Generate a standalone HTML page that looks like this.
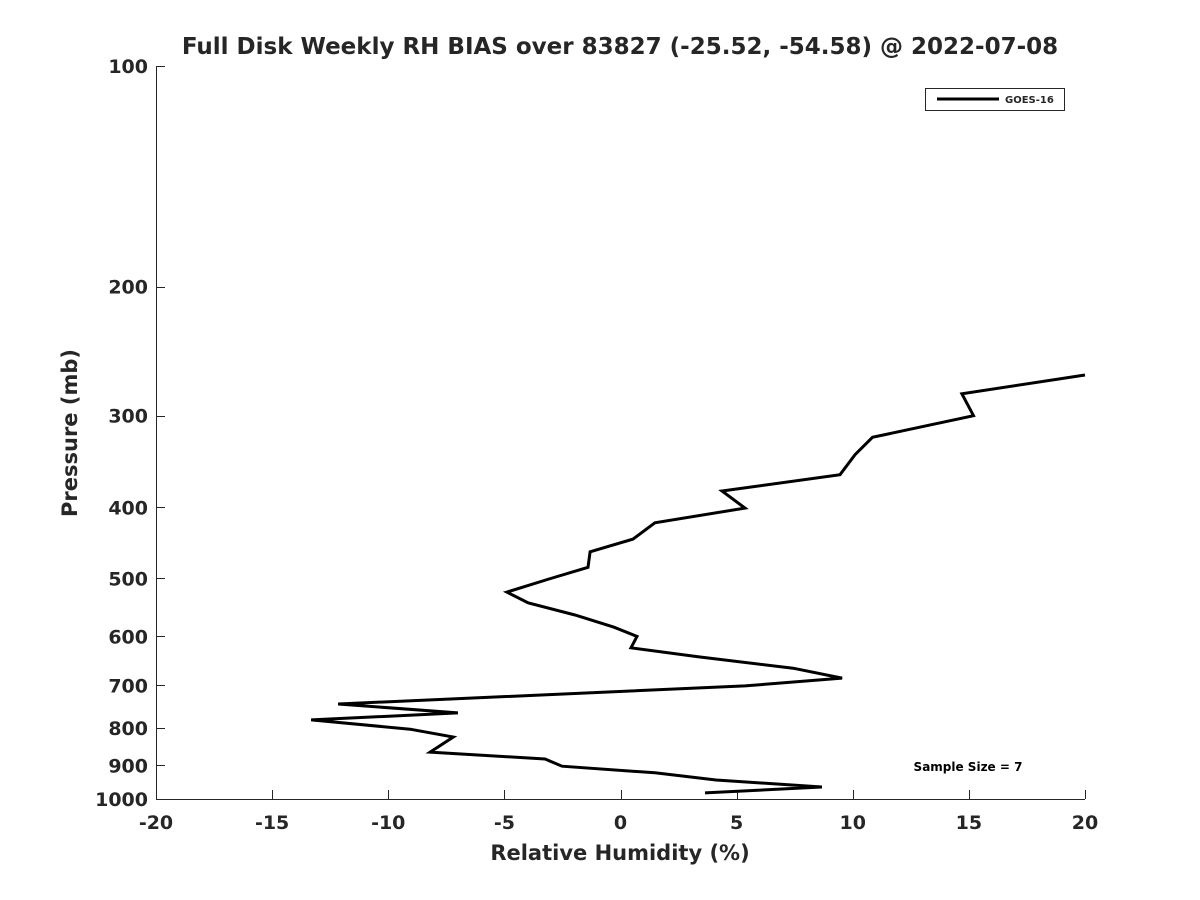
<!DOCTYPE html>
<html><head><meta charset="utf-8"><style>
html,body{margin:0;padding:0;background:#fff;}
svg{display:block;font-family:"DejaVu Sans","Liberation Sans",sans-serif;}
</style></head><body>
<svg id="chart" width="1200" height="900" viewBox="0 0 1200 900">
<text x="620" y="54" text-anchor="middle" font-size="23" font-weight="bold" fill="#262626">Full Disk Weekly RH BIAS over 83827 (-25.52, -54.58) @ 2022-07-08</text>
<g id="axes"></g>
<path id="series" fill="none" stroke="#000" stroke-width="3" stroke-linejoin="miter"/>
<g>
<rect x="925.5" y="88.5" width="139" height="22" fill="#fff" stroke="#262626" stroke-width="1"/>
<line x1="937" y1="99" x2="999" y2="99" stroke="#000" stroke-width="3"/>
<text x="1005" y="103" font-size="10" font-weight="bold" fill="#262626">GOES-16</text>
</g>
<text x="968" y="771" text-anchor="middle" font-size="12" font-weight="bold" fill="#000">Sample Size = 7</text>
<text x="620" y="860" text-anchor="middle" font-size="21" font-weight="bold" fill="#262626">Relative Humidity (%)</text>
<text transform="translate(77,433) rotate(-90)" text-anchor="middle" font-size="21" font-weight="bold" fill="#262626">Pressure (mb)</text>
</svg>
<script>
const rhValues = [20,14.7,15.2,10.85,10.1,9.45,4.37,5.36,1.48,0.54,-1.31,-1.4,-3.08,-4.89,-3.98,-1.96,-0.28,0.71,0.45,3.38,7.43,9.54,5.36,-12.16,-7.0,-13.32,-9.06,-7.2,-8.2,-3.25,-2.52,1.48,4.11,8.67,3.64];
const pressures = [264,280,300,321,339,361,380,401,420,442,460,483,501,522,540,561,583,600,622,640,663,684,701,742,763,780,803,823,863,882,902,921,942,963,981];
const xTicks = [-20,-15,-10,-5,0,5,10,15,20];
const yTicks = [100,200,300,400,500,600,700,800,900,1000];

const X0=156,X1=1085,Y0=66,Y1=799;
const xMin=-20,xMax=20,pMin=100,pMax=1000;
function xScale(v){return X0+(v-xMin)/(xMax-xMin)*(X1-X0);}
function yScale(p){return Y0+Math.log10(p/pMin)/Math.log10(pMax/pMin)*(Y1-Y0);}
const NS="http://www.w3.org/2000/svg";
const axes=document.getElementById('axes');
function mk(tag,attrs){const e=document.createElementNS(NS,tag);for(const k in attrs)e.setAttribute(k,attrs[k]);return e;}

const xa=mk('line',{x1:X0,y1:Y1+0.5,x2:X1,y2:Y1+0.5,stroke:'#262626','stroke-width':1});


axes.appendChild(xa);
const ya=mk('line',{x1:X0+0.5,y1:Y0,x2:X0+0.5,y2:Y1,stroke:'#262626','stroke-width':1});


axes.appendChild(ya);

xTicks.forEach(t=>{
  const x=Math.round(xScale(t))+0.5;
  const tk=mk('line',{x1:x,y1:Y1,x2:x,y2:Y1-9,stroke:'#262626','stroke-width':1});
  
  
  axes.appendChild(tk);
  const lb=mk('text',{x:xScale(t),y:Y1+30,'text-anchor':'middle','font-size':19,'font-weight':'bold',fill:'#262626'});
  
  
  lb.textContent=t;
  axes.appendChild(lb);
});
yTicks.forEach(t=>{
  const y=Math.round(yScale(t))+0.5;
  const tk=mk('line',{x1:X0,y1:y,x2:X0+9,y2:y,stroke:'#262626','stroke-width':1});
  
  
  axes.appendChild(tk);
  const lb=mk('text',{x:X0-8,y:yScale(t)+7,'text-anchor':'end','font-size':19,'font-weight':'bold',fill:'#262626'});
  
  
  lb.textContent=t;
  axes.appendChild(lb);
});

document.getElementById('series').setAttribute('d',
  rhValues.map((v,i)=>(i?'L':'M')+xScale(v).toFixed(1)+','+yScale(pressures[i]).toFixed(1)).join(' '));
</script>
</body></html>
